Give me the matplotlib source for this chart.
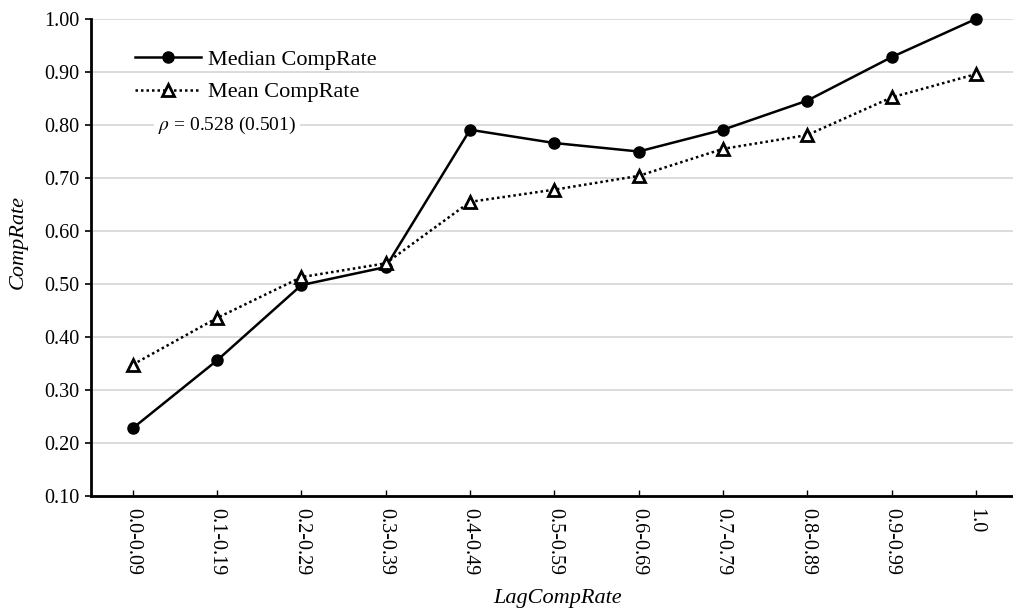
import matplotlib
matplotlib.use("Agg")
import matplotlib.pyplot as plt
from matplotlib.lines import Line2D

categories = ["0.0-0.09", "0.1-0.19", "0.2-0.29", "0.3-0.39", "0.4-0.49", "0.5-0.59",
              "0.6-0.69", "0.7-0.79", "0.8-0.89", "0.9-0.99", "1.0"]
median_comprate = [0.228, 0.356, 0.498, 0.532, 0.791, 0.766, 0.750, 0.791, 0.846, 0.928, 1.000]
mean_comprate = [0.348, 0.436, 0.513, 0.539, 0.655, 0.678, 0.704, 0.755, 0.781, 0.852, 0.896]
yticks = [0.10, 0.20, 0.30, 0.40, 0.50, 0.60, 0.70, 0.80, 0.90, 1.00]

plt.rcParams['font.family'] = ['Liberation Serif', 'DejaVu Serif']
plt.rcParams['mathtext.fontset'] = 'stix'

W, H = 1013, 611
fig = plt.figure(figsize=(W / 100, H / 100), dpi=100)
left, right, top, bottom = 90.7, 1018, 19, 496
ax = fig.add_axes([left / W, 1 - bottom / H, (right - left) / W, (bottom - top) / H])

def ax_xy(px, py):
    return (px - left) / (right - left), (bottom - py) / (bottom - top)

x = list(range(len(categories)))
ax.set_xlim(-0.5, len(categories) - 0.5)
ax.set_ylim(0.10, 1.00)
ax.set_yticks(yticks)
ax.set_yticklabels([f"{v:.2f}" for v in yticks], fontsize=14.5)
ax.set_xticks(x)
ax.set_xticklabels(categories, rotation=-90, fontsize=14.5)

ax.grid(axis='y', color='#d9d9d9', linewidth=1.3)
ax.set_axisbelow(True)
for s in ['top', 'right']:
    ax.spines[s].set_visible(False)
for s in ['left', 'bottom']:
    ax.spines[s].set_linewidth(2)
    ax.spines[s].set_color('black')
ax.tick_params(axis='y', direction='out', length=4, width=1.2, pad=4)
ax.tick_params(axis='x', direction='in', length=4, width=1.0, pad=9)

dotted = (0, (1, 1.2))
ax.plot(x, median_comprate, color='black', linewidth=1.8, marker='o', markersize=8,
        clip_on=False, zorder=3)
ax.plot(x, mean_comprate, color='black', linewidth=1.8, linestyle=dotted,
        marker='^', markersize=9, markerfacecolor='white', markeredgewidth=2,
        markeredgecolor='black', clip_on=False, zorder=3)

fig.text(18 / W, 1 - 242 / H, "CompRate", fontsize=16, style='italic',
         rotation=90, ha='center', va='center')
fig.text(558 / W, 1 - 598 / H, "LagCompRate", fontsize=16, style='italic',
         ha='center', va='center')

handles = [
    Line2D([0], [0], color='black', linewidth=1.8, marker='o', markersize=8),
    Line2D([0], [0], color='black', linewidth=1.8, linestyle=dotted, marker='^',
           markersize=9, markerfacecolor='white', markeredgewidth=2),
]
leg = ax.legend(handles, ["Median CompRate", "Mean CompRate"], loc='upper left',
                bbox_to_anchor=ax_xy(135, 49), frameon=False, fontsize=16,
                handlelength=2.95, handletextpad=0.32, labelspacing=0.55,
                borderpad=0, borderaxespad=0)

ax.text(*ax_xy(158, 125), r"$\rho$ = 0.528 (0.501)", transform=ax.transAxes,
        fontsize=14, va='center', ha='left',
        bbox=dict(facecolor='white', edgecolor='none', pad=3))

fig.savefig("out.png", dpi=100)
